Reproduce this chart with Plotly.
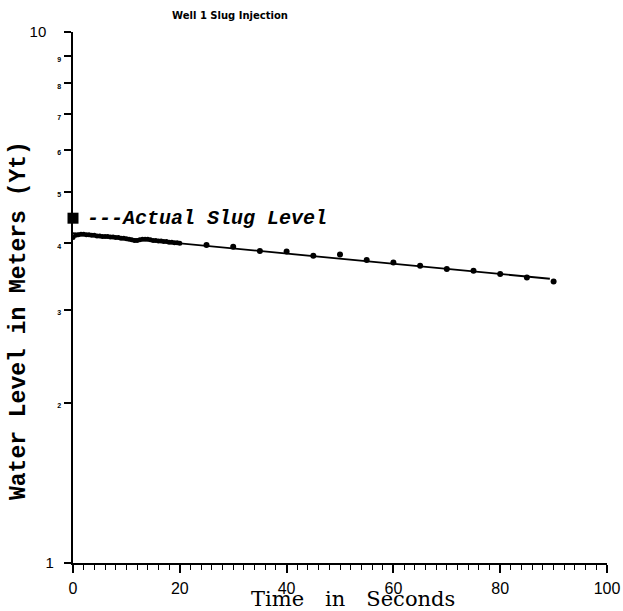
import plotly.graph_objects as go
import math

# ---- data ----
dense_t = [0, 0.5, 1, 1.5, 2, 2.5, 3, 3.5, 4, 4.5, 5, 5.5, 6, 6.5, 7, 7.5, 8, 8.5, 9, 9.5,
           10, 10.5, 11, 11.5, 12, 12.5, 13, 13.5, 14, 14.5, 15, 15.5, 16, 16.5, 17, 17.5,
           18, 18.5, 19, 19.5, 20]
dense_y = [4.10, 4.14, 4.15, 4.16, 4.16, 4.15, 4.15, 4.14, 4.14, 4.13, 4.13, 4.12, 4.12, 4.12,
           4.11, 4.11, 4.10, 4.10, 4.09, 4.09, 4.08, 4.07, 4.06, 4.05, 4.05, 4.06, 4.07, 4.07,
           4.07, 4.06, 4.05, 4.05, 4.04, 4.04, 4.03, 4.03, 4.02, 4.02, 4.01, 4.01, 4.00]
sparse_t = [25, 30, 35, 40, 45, 50, 55, 60, 65, 70, 75, 80, 85, 90]
sparse_y = [3.97, 3.94, 3.87, 3.86, 3.79, 3.81, 3.72, 3.68, 3.63, 3.58, 3.55, 3.50, 3.45, 3.39]
fit_t = [0, 89.3]
fit_y = [4.18, 3.43]
slug_t = [0]
slug_y = [4.46]
y_tickvals = [1, 2, 3, 4, 5, 6, 7, 8, 9, 10]
y_ticktext = ["1\u2002", "2", "3", "4", "5", "6", "7", "8", "9", "10\u2002\u2002"]
x_tickvals = [0, 20, 40, 60, 80, 100]

W, H = 623, 611
L, R, T, B = 73, 16, 32, 48
PW, PH = W - L - R, H - T - B

fig = go.Figure()
fig.add_trace(go.Scatter(x=fit_t, y=fit_y, mode="lines",
                         line=dict(color="black", width=1.8), showlegend=False))
fig.add_trace(go.Scatter(x=dense_t, y=dense_y, mode="markers",
                         marker=dict(color="black", size=5), showlegend=False))
fig.add_trace(go.Scatter(x=sparse_t, y=sparse_y, mode="markers",
                         marker=dict(color="black", size=6), showlegend=False))
fig.add_trace(go.Scatter(x=slug_t, y=slug_y, mode="markers", cliponaxis=False,
                         marker=dict(color="black", size=11, symbol="square"), showlegend=False))

small = "<span style='font-size:7px;font-weight:bold'>{}</span>"
ticktext = []
for v, t in zip(y_tickvals, y_ticktext):
    ticktext.append(t if v in (1, 10) else small.format(t))

fig.update_layout(
    width=W, height=H,
    margin=dict(l=L, r=R, t=T, b=B, autoexpand=False),
    paper_bgcolor="white", plot_bgcolor="white",
    title=dict(text="<b>Well 1 Slug Injection</b>", x=230 / W, xanchor="center",
               y=1 - 15 / H, yanchor="middle",
               font=dict(family="DejaVu Sans", size=10, color="black")),
    xaxis=dict(range=[0, 100], tickvals=x_tickvals, showgrid=False, zeroline=False,
               showline=True, linecolor="black", linewidth=1.5,
               ticks="outside", ticklen=8, tickwidth=1.5, tickcolor="black",
               ticklabelstandoff=2,
               tickfont=dict(family="Liberation Sans", size=16, color="black"),
               minor=dict(dtick=2, ticks="outside", ticklen=5, tickwidth=1.2,
                          tickcolor="black", showgrid=False)),
    yaxis=dict(type="log", range=[0, 1], tickvals=y_tickvals, ticktext=ticktext,
               showgrid=False, zeroline=False,
               showline=True, linecolor="black", linewidth=1.5,
               ticks="outside", ticklen=7, tickwidth=1.5, tickcolor="black",
               tickfont=dict(family="Liberation Sans", size=15, color="black")),
)

fig.add_annotation(x=2.2, y=math.log10(slug_y[0]), xref="x", yref="y",
                   text="<b><i>---Actual Slug Level</i></b>", showarrow=False,
                   xanchor="left", yanchor="middle",
                   font=dict(family="Liberation Mono", size=20, color="black"))

fig.add_annotation(x=(19 - L) / PW, y=(H - B - 321) / PH,
                   xref="paper", yref="paper", textangle=-90,
                   text="<b>Water Level in Meters (Yt)</b>", showarrow=False,
                   xanchor="center", yanchor="middle",
                   font=dict(family="Liberation Mono", size=23, color="black"))

fig.add_annotation(x=(353 - L) / PW, y=(H - B - 599) / PH, xref="paper", yref="paper",
                   text="Time\u2003in\u2003Seconds", showarrow=False,
                   xanchor="center", yanchor="middle",
                   font=dict(family="DejaVu Serif", size=21, color="black"))

# remove the default 8px page margin so the figure fills the 623x611 window exactly
fig.write_html("out.html", config={"displayModeBar": False},
               post_script="document.body.style.margin='0';document.body.style.overflow='hidden';")
